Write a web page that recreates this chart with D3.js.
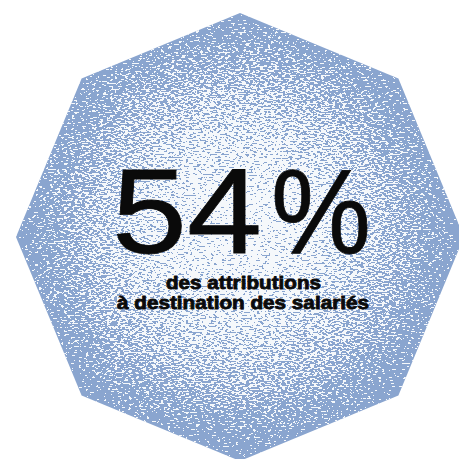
<!DOCTYPE html>
<html><head><meta charset="utf-8">
<script src="https://cdn.jsdelivr.net/npm/d3@7"></script>
<style>html,body{margin:0;padding:0;background:#fff;}svg{display:block;}</style>
</head><body>
<script>
const value = [54];
const unit = ["%"];
const labelLines = ["des attributions", "à destination des salariés"];
const shapeSides = [8];

const W = 459, H = 459;
const cx = 240, cy = 237, R = 224;
const blue = "#8aa5cf";

const svg = d3.select("body").append("svg").attr("width", W).attr("height", H);
const defs = svg.append("defs");

const grad = defs.append("radialGradient").attr("id", "g")
  .attr("gradientUnits", "userSpaceOnUse")
  .attr("cx", 238).attr("cy", 232).attr("r", 225);
[[0, "#f0f0f0"], [0.35, "#c4c4c4"], [0.7, "#707070"], [0.9, "#282828"], [1, "#000000"]].forEach(([o, c]) =>
  grad.append("stop").attr("offset", o).attr("stop-color", c));

const f = defs.append("filter").attr("id", "dither")
  .attr("filterUnits", "userSpaceOnUse").attr("x", 0).attr("y", 0).attr("width", W).attr("height", H)
  .attr("color-interpolation-filters", "sRGB");
f.append("feTurbulence").attr("type", "fractalNoise").attr("baseFrequency", "0.28 0.65")
  .attr("numOctaves", 2).attr("seed", 7).attr("result", "n");
f.append("feColorMatrix").attr("in", "n").attr("type", "matrix")
  .attr("values", "1 0 0 0 0  1 0 0 0 0  1 0 0 0 0  0 0 0 0 1").attr("result", "nr");
f.append("feComposite").attr("in", "SourceGraphic").attr("in2", "nr").attr("operator", "arithmetic")
  .attr("k1", 0).attr("k2", 1).attr("k3", 2.6).attr("k4", -1.3).attr("result", "sum");
const ct = f.append("feComponentTransfer").attr("in", "sum");
["feFuncR", "feFuncG", "feFuncB"].forEach(n => ct.append(n).attr("type", "discrete").attr("tableValues", "0 0.92"));
ct.append("feFuncA").attr("type", "linear").attr("slope", 0).attr("intercept", 1);

const mask = defs.append("mask").attr("id", "m")
  .attr("maskUnits", "userSpaceOnUse").attr("x", 0).attr("y", 0).attr("width", W).attr("height", H);
mask.append("rect").attr("width", W).attr("height", H).attr("fill", "url(#g)").attr("filter", "url(#dither)");

const n = shapeSides[0];
const angle = d3.scaleLinear().domain([0, n]).range([-Math.PI / 2, 1.5 * Math.PI]);
const pts = d3.range(n).map(i => [cx + R * Math.cos(angle(i)), cy + R * Math.sin(angle(i))]);
const line = d3.line().curve(d3.curveLinearClosed);

svg.append("path").attr("d", line(pts)).attr("fill", blue);
svg.append("path").attr("d", line(pts)).attr("fill", "#ffffff").attr("mask", "url(#m)");

const big = svg.append("text").attr("font-family", "Liberation Sans, Arial, sans-serif")
  .attr("font-size", 121).attr("fill", "#0a0a0a").attr("stroke", "#0a0a0a").attr("stroke-width", 0.8);
big.append("tspan").attr("x", 112).attr("y", 253).attr("textLength", 150)
  .attr("lengthAdjust", "spacingAndGlyphs").text(String(value[0]));
big.append("tspan").attr("x", 271).attr("y", 253).attr("textLength", 100)
  .attr("lengthAdjust", "spacingAndGlyphs").text(unit[0]);

const sub = svg.append("g").attr("font-family", "Liberation Sans, Arial, sans-serif")
  .attr("font-weight", "bold").attr("font-size", 17.5).attr("fill", "#0a0a0a")
  .attr("stroke", "#0a0a0a").attr("stroke-width", 0.8).attr("stroke-linejoin", "round");
const widths = [155, 252];
const xs = [166, 117];
const ys = [289, 309];
labelLines.forEach((t, i) => {
  sub.append("text").attr("x", xs[i]).attr("y", ys[i]).attr("textLength", widths[i])
    .attr("lengthAdjust", "spacingAndGlyphs").text(t);
});
</script>
</body></html>
